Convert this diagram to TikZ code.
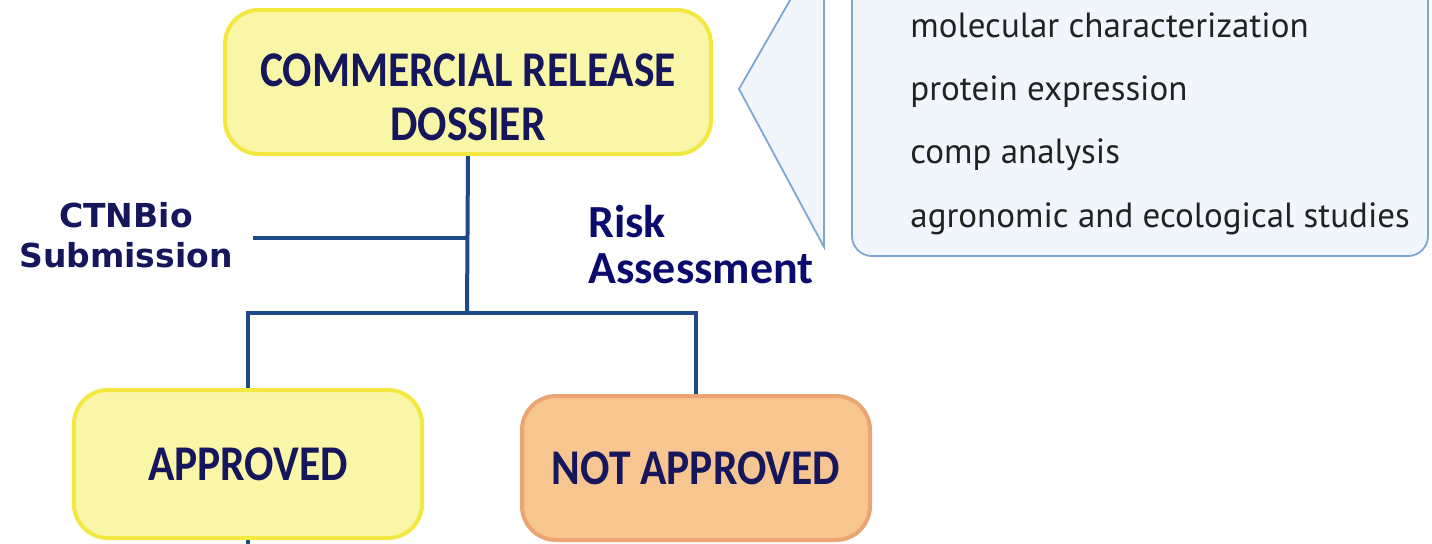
\documentclass[tikz,border=0pt]{standalone}
\usepackage{fontspec}
\usepackage{xcolor}
\usetikzlibrary{positioning}

\newfontfamily\boxfont[FakeStretch=0.87]{Carlito}
\newfontfamily\sidefont{DejaVu Sans}
\newfontfamily\riskfont{Carlito}
\newfontfamily\notefont{PT Sans}

\definecolor{boxfill}{HTML}{FAF6A8}
\definecolor{boxedge}{HTML}{F2E840}
\definecolor{nofill}{HTML}{F7C590}
\definecolor{noedge}{HTML}{EBA472}
\definecolor{navy}{HTML}{16165C}
\definecolor{riskblue}{HTML}{0B0B6E}
\definecolor{linkblue}{HTML}{1F4A8A}
\definecolor{calloutfill}{HTML}{F1F6FC}
\definecolor{calloutedge}{HTML}{7EA6D2}
\definecolor{notegray}{HTML}{222222}

\begin{document}
\begin{tikzpicture}[x=0.5pt,y=-0.5pt,
    stagebox/.style={draw=boxedge,fill=boxfill,line width=2pt,rounded corners=17pt,
      minimum width=174pt,minimum height=74pt,text=navy,align=center,
      font=\boxfont\bfseries\fontsize{25}{27}\selectfont},
    nobox/.style={draw=noedge,fill=nofill},
    link/.style={draw=linkblue,line width=2pt},
    sidelabel/.style={text=navy,align=center,inner sep=0pt,
      font=\sidefont\bfseries\fontsize{16.5}{20}\selectfont},
    risklabel/.style={text=riskblue,align=left,inner sep=0pt,
      font=\riskfont\bfseries\fontsize{23}{23}\selectfont},
    note/.style={text=notegray,inner sep=0pt,anchor=base west,
      font=\notefont\fontsize{17.5}{20}\selectfont},
    callout/.style={fill=calloutfill,draw=calloutedge,line width=0.9pt}]
  \clip (0,0) rectangle (1432,543);
  \fill[white] (0,0) rectangle (1432,543);
  %
  \filldraw[callout] (793,-5) -- (739,89) -- (824,247) -- (824,-5);
  \filldraw[callout,rounded corners=10pt] (852,-40) rectangle (1428,256);
  \node[note] (molec) at (910,37) {molecular characterization};
  \node[note] (protein) at (910,100) {protein expression};
  \node[note] (comp) at (910,163) {comp analysis};
  \node[note] (agro) at (910,227) {agronomic and ecological studies};
  %
  \node[stagebox,minimum width=243pt,minimum height=72pt] (dossier) at (468,82)
    {\rule{0pt}{32pt}COMMERCIAL RELEASE\\DOSSIER};
  \node[stagebox] (approved) at (248,464) {APPROVED};
  \node[stagebox,nobox,minimum height=72pt] (notapproved) at (696,468) {NOT APPROVED};
  %
  \node[sidelabel] (submission) at (126,235) {CTNBio\\Submission};
  \node[risklabel,anchor=west] (risk) at (588,245) {Risk\\Assessment};
  %
  \coordinate (ctn) at (467,238);
  \coordinate (ctnend) at (253,238);
  \coordinate (split) at (467,313);
  \coordinate (stub) at (248,560);
  \draw[link] (dossier.south) -- (split);
  \draw[link] (ctnend) -- (ctn);
  \draw[link] (split) -| (approved.north);
  \draw[link] (split) -| (notapproved.north);
  \draw[link] (approved.south) -- (stub);
\end{tikzpicture}
\end{document}
